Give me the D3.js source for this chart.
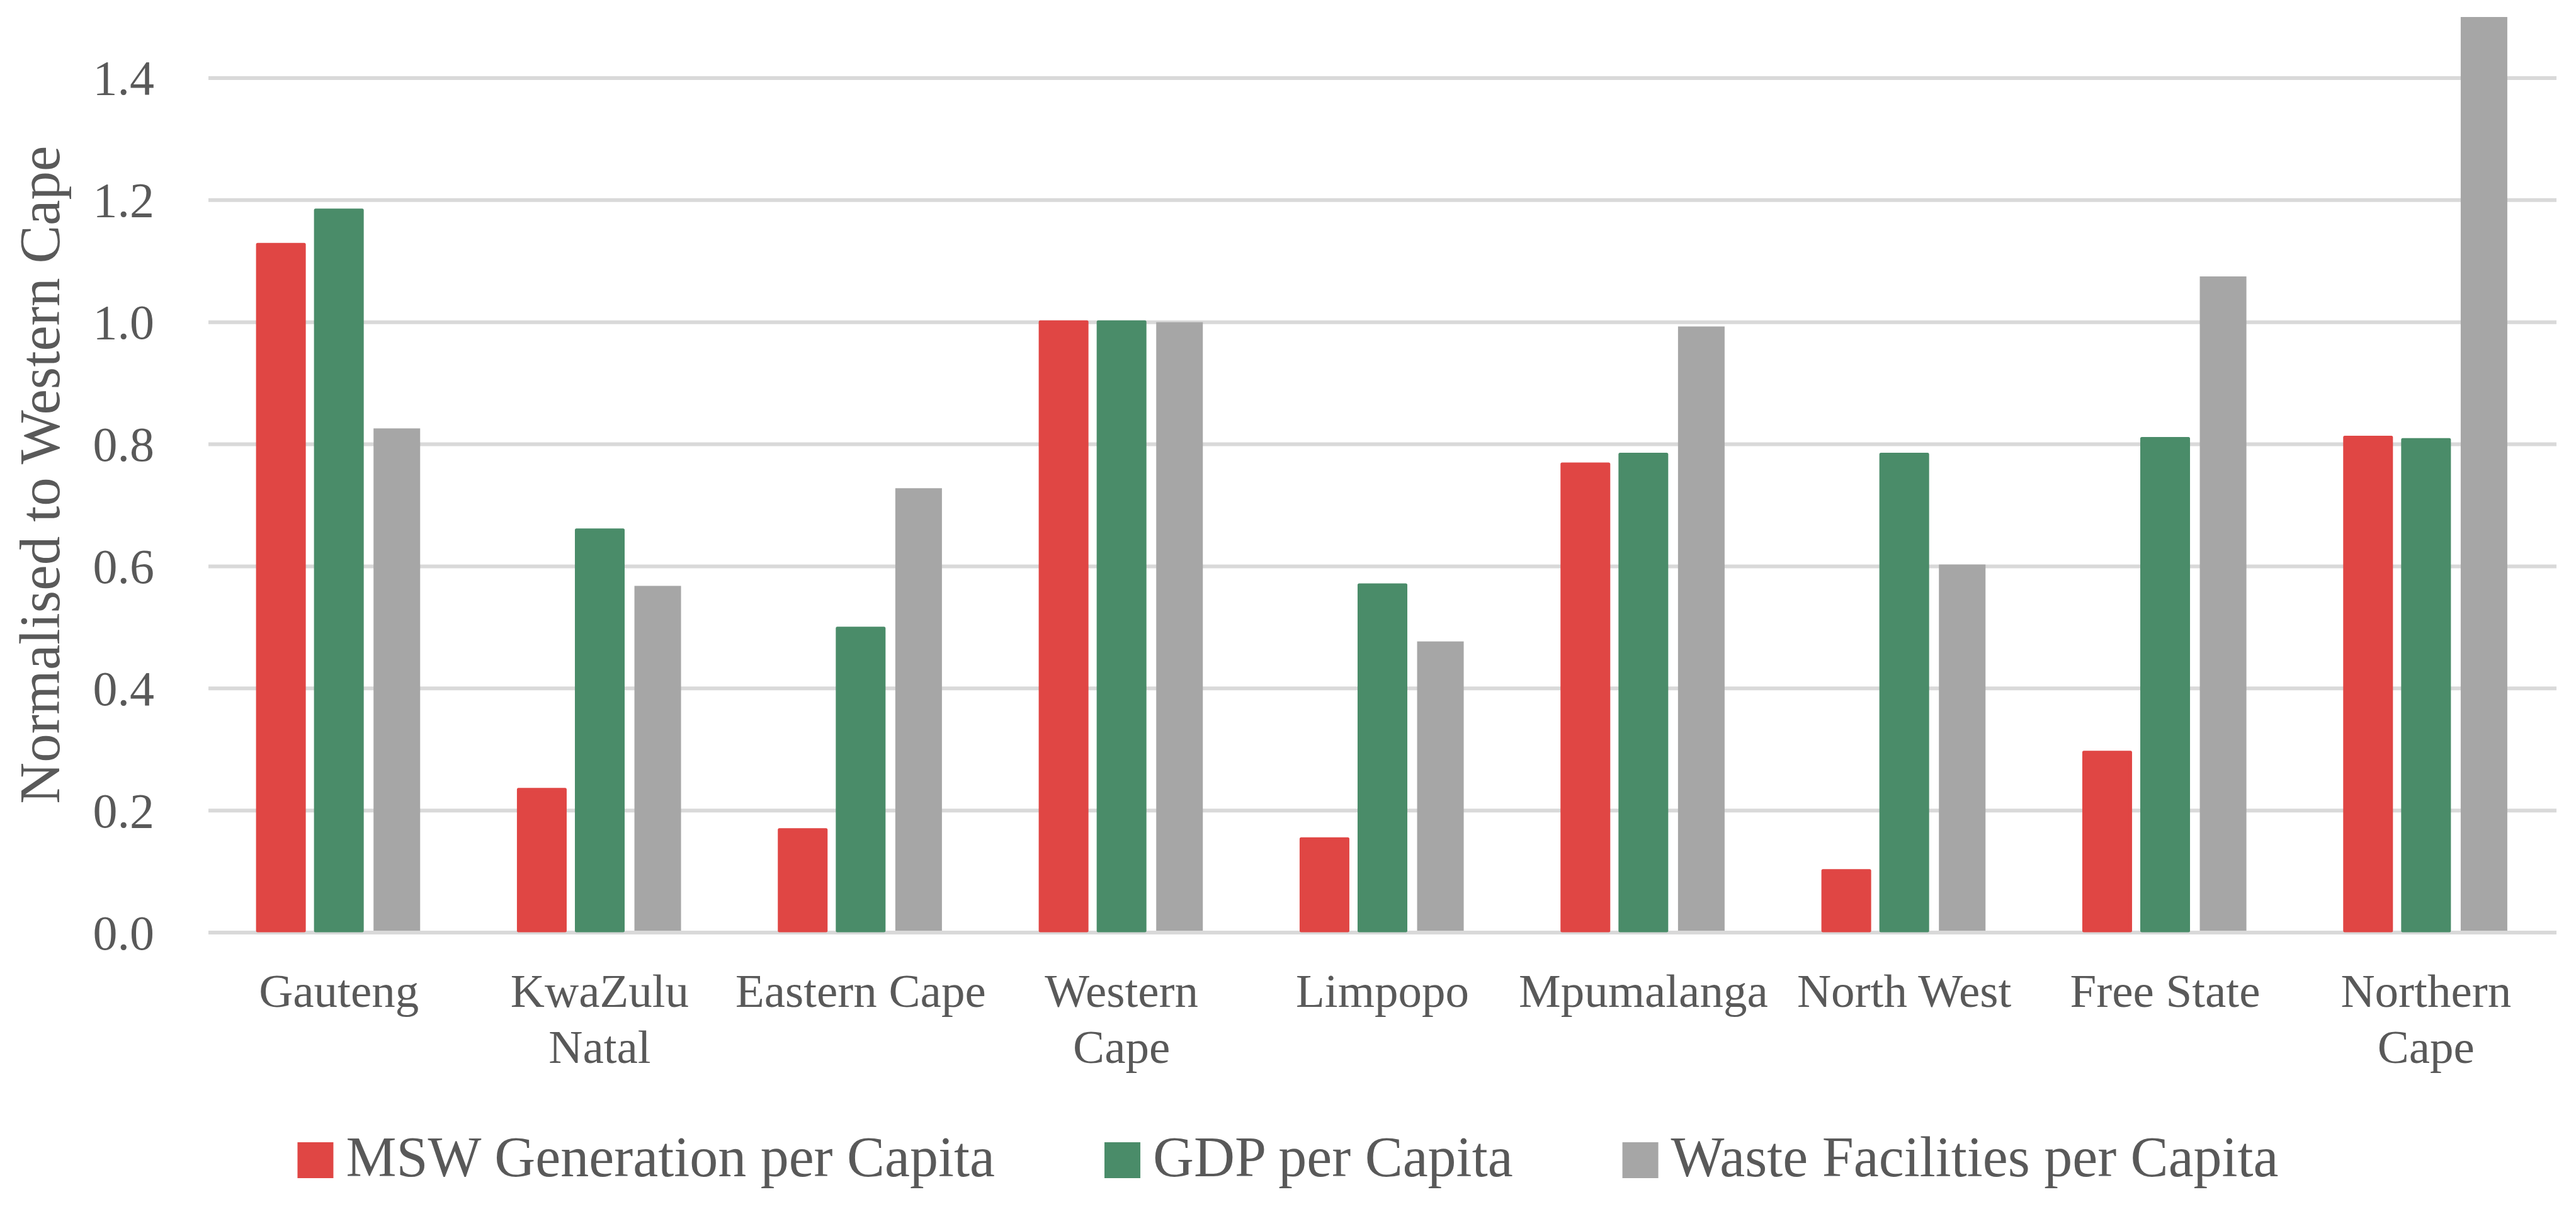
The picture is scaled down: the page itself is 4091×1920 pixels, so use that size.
<!DOCTYPE html>
<html>
<head>
<meta charset="utf-8">
<script src="https://cdn.jsdelivr.net/npm/d3@7"></script>
<style>
  html, body { margin: 0; padding: 0; background: #fff; }
  svg { display: block; }
  text { font-family: "Liberation Serif", "DejaVu Serif", serif; fill: #595959; }
</style>
</head>
<body>
<svg id="chart"></svg>
<script>
const categories = ["Gauteng", "KwaZulu\nNatal", "Eastern Cape", "Western\nCape", "Limpopo",
  "Mpumalanga", "North West", "Free State", "Northern\nCape"];
const seriesNames = ["MSW Generation per Capita", "GDP per Capita", "Waste Facilities per Capita"];
const mswValues = [1.130, 0.237, 0.171, 1.003, 0.156, 0.770, 0.104, 0.298, 0.814];
const gdpValues = [1.186, 0.662, 0.501, 1.003, 0.572, 0.786, 0.786, 0.812, 0.810];
const facilityValues = [0.826, 0.568, 0.728, 1.000, 0.477, 0.993, 0.603, 1.075, 1.500];
const yTicks = [0, 0.2, 0.4, 0.6, 0.8, 1.0, 1.2, 1.4];
const colors = ["#E04644", "#4A8C69", "#A6A6A6"];

const width = 4091;
const height = 1920;
const plot = { left: 331, right: 4060, top: 27, bottom: 1481 };

const svg = d3.select("#chart").attr("width", width).attr("height", height);
svg.append("rect").attr("width", width).attr("height", height).attr("fill", "#fff");

const series = [mswValues, gdpValues, facilityValues];
const rows = categories.map((c, i) => ({
  cat: c,
  values: series.map((s, j) => ({ key: seriesNames[j], value: s[i], idx: j })),
}));

const x0 = d3.scaleBand().domain(categories).range([plot.left, plot.right])
  .paddingInner(0.377).paddingOuter(0.1885);
const x1 = d3.scaleBand().domain(seriesNames).range([0, x0.bandwidth()])
  .paddingInner(0.196).paddingOuter(0);
const y = d3.scaleLinear().domain([0, 1.5]).range([plot.bottom, plot.top]);

// gridlines
svg.append("g")
  .selectAll("line")
  .data(yTicks)
  .enter()
  .append("line")
  .attr("x1", plot.left)
  .attr("x2", plot.right)
  .attr("y1", (d) => y(d))
  .attr("y2", (d) => y(d))
  .attr("stroke", "#D9D9D9")
  .attr("stroke-width", 6);

// y tick labels
svg.append("g")
  .selectAll("text")
  .data(yTicks)
  .enter()
  .append("text")
  .attr("x", 245)
  .attr("y", (d) => y(d))
  .attr("dy", "0.34em")
  .attr("text-anchor", "end")
  .attr("font-size", 78)
  .text((d) => d3.format(".1f")(d));

// bars
svg.append("defs").append("clipPath").attr("id", "clip")
  .append("rect")
  .attr("x", plot.left).attr("y", plot.top)
  .attr("width", plot.right - plot.left).attr("height", plot.bottom - plot.top);

const group = svg.append("g")
  .attr("clip-path", "url(#clip)")
  .selectAll("g")
  .data(rows)
  .enter()
  .append("g")
  .attr("transform", (d) => `translate(${x0(d.cat)},0)`);

group.selectAll("rect")
  .data((d) => d.values)
  .enter()
  .append("rect")
  .attr("x", (d) => x1(d.key))
  .attr("width", x1.bandwidth())
  .attr("y", (d) => y(d.value) + (d.idx < 2 ? 2.5 : 0))
  .attr("height", (d) => y(0) - y(d.value) - (d.idx < 2 ? 2.5 : 0) - 3)
  .attr("fill", (d) => colors[d.idx])
  .attr("stroke", (d) => (d.idx < 2 ? colors[d.idx] : "none"))
  .attr("stroke-width", 5)
  .attr("stroke-linejoin", "round");

// category labels
const catLabels = svg.append("g")
  .selectAll("text")
  .data(categories)
  .enter()
  .append("text")
  .attr("text-anchor", "middle")
  .attr("font-size", 75);

catLabels.selectAll("tspan")
  .data((d) => d.split("\n").map((t) => ({ t, cat: d })))
  .enter()
  .append("tspan")
  .attr("x", (d) => x0(d.cat) + x0.bandwidth() / 2)
  .attr("y", (d, i) => 1599 + i * 89)
  .text((d) => d.t);

// y axis title
svg.append("text")
  .attr("transform", `translate(94, ${(plot.top + plot.bottom) / 2}) rotate(-90)`)
  .attr("text-anchor", "middle")
  .attr("font-size", 91)
  .text("Normalised to Western Cape");

// legend
const legend = svg.append("g");
const sw = 57;
const textGap = 20;
const itemGap = 174;
let cursor = 0;
seriesNames.forEach((name, i) => {
  const item = legend.append("g").attr("transform", `translate(${cursor},0)`);
  item.append("rect")
    .attr("x", 0)
    .attr("y", 1814)
    .attr("width", sw)
    .attr("height", sw)
    .attr("fill", colors[i]);
  const t = item.append("text")
    .attr("x", sw + textGap)
    .attr("y", 1868)
    .attr("font-size", 90)
    .text(name);
  cursor += sw + textGap + t.node().getComputedTextLength() + itemGap;
});
const legendWidth = cursor - itemGap;
legend.attr("transform", `translate(${(width - legendWidth) / 2},0)`);
</script>
</body>
</html>
